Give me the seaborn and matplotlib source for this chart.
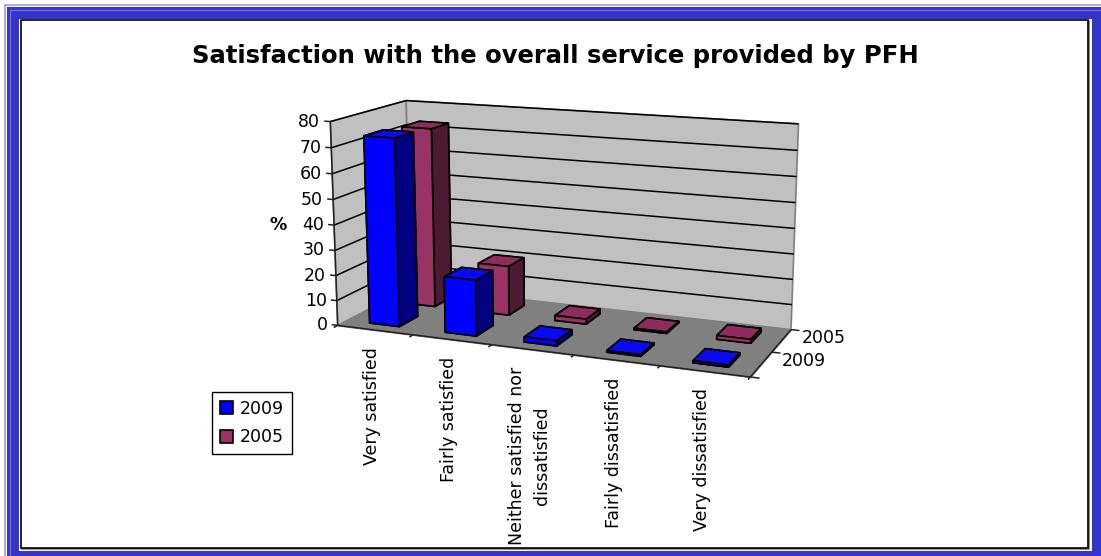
import numpy as np
import matplotlib
matplotlib.use("Agg")
import matplotlib.pyplot as plt
import seaborn as sns
from matplotlib.patches import Rectangle, Patch
from mpl_toolkits.mplot3d import proj3d
from mpl_toolkits.mplot3d.art3d import Poly3DCollection, Line3DCollection

# ---- data -------------------------------------------------------------
categories = ["Very satisfied", "Fairly satisfied",
              "Neither satisfied nor\ndissatisfied",
              "Fairly dissatisfied", "Very dissatisfied"]
series = ["2009", "2005"]
values_2009 = [74, 22, 2, 0.6, 0.8]
values_2005 = [73, 20, 2, 0.6, 1.5]
value_ticks = [0, 10, 20, 30, 40, 50, 60, 70, 80]

# ---- style ------------------------------------------------------------
sns.set_theme(style="white")
plt.rcParams["font.family"] = ["DejaVu Sans"]
plt.rcParams["text.color"] = "black"
FS = 12.5

face_cols = {
    "2009": dict(front="#0000ff", top="#0a0af0", side="#000080"),
    "2005": dict(front="#993366", top="#8e2d5d", side="#4d1a33"),
}

W, H = 1101, 556
fig = plt.figure(figsize=(W / 100, H / 100), dpi=100)
fig.patch.set_facecolor("white")


def px_rect(x0, y0, x1, y1):
    """Figure-fraction rectangle from image pixel corners (top-left origin)."""
    return (x0 / W, 1 - y1 / H), (x1 - x0) / W, (y1 - y0) / H


# frame around the chart
for (x0, y0, x1, y1, fc, ec, lw) in [
    (5, 5, W + 10, H + 10, "none", "#9c9ce8", 1.2),
    (7, 7, W + 10, H + 10, "#3434c8", "none", 0),
    (10, 10, W + 10, H + 10, "none", "#6e6ee0", 1.0),
    (19, 19, 1092, 551, "white", "none", 0),
    (22, 21, 1089, 549, "none", "#7a7a7a", 1.2),
    (21, 20, 1088, 548, "white", "black", 1.2),
]:
    xy, w, h = px_rect(x0, y0, x1, y1)
    fig.patches.append(Rectangle(xy, w, h, transform=fig.transFigure,
                                 facecolor=fc, edgecolor=ec, linewidth=lw,
                                 zorder=-5))

fig.text(555 / W, 1 - 56 / H,
         "Satisfaction with the overall service provided by PFH",
         ha="center", va="center", fontsize=17.5, fontweight="bold")

# ---- 3-D axes -----------------------------------------------------------
nx, ny, zmax = len(categories), len(series), value_ticks[-1]
S0, cx0, cy0 = 800.0, 565.0, H - 240.0


def place(ax, S, cx, cy):
    ax.set_position([(cx - S / 2) / W, (cy - S / 2) / H, S / W, S / H])


ax = fig.add_axes([0, 0, 1, 1], projection="3d", computed_zorder=False)
place(ax, S0, cx0, cy0)
ax.set_proj_type("persp", focal_length=0.55)
ax.view_init(elev=13, azim=-68)
ax.set_box_aspect((457, 168, 222))
ax.set_xlim(0, nx)
ax.set_ylim(0, ny)
ax.set_zlim(0, zmax)
ax.set_axis_off()
ax.patch.set_visible(False)

# walls and floor
floor = [(0, 0, 0), (nx, 0, 0), (nx, ny, 0), (0, ny, 0)]
left_wall = [(0, 0, 0), (0, ny, 0), (0, ny, zmax), (0, 0, zmax)]
back_wall = [(0, ny, 0), (nx, ny, 0), (nx, ny, zmax), (0, ny, zmax)]
ax.add_collection3d(Poly3DCollection([left_wall, back_wall],
                                     facecolors="#c0c0c0",
                                     edgecolors="#808080", linewidths=1.2,
                                     zorder=1))
ax.add_collection3d(Poly3DCollection([floor], facecolors="#808080",
                                     edgecolors="#808080", linewidths=1,
                                     zorder=1))

# gridlines on both walls
grid = []
for z in value_ticks[1:]:
    grid.append([(0, 0, z), (0, ny, z)])
    grid.append([(0, ny, z), (nx, ny, z)])
ax.add_collection3d(Line3DCollection(grid, colors="black", linewidths=1.1,
                                     zorder=2))

# axis lines and tick marks
axis_lines = [[(0, 0, 0), (0, 0, zmax)],
              [(0, 0, 0), (nx, 0, 0)],
              [(nx, 0, 0), (nx, ny, 0)]]
for z in value_ticks:
    axis_lines.append([(0, 0, z), (-0.08, 0, z)])
for i in range(nx + 1):
    axis_lines.append([(i, 0, 0), (i, -0.1, 0)])
for j in range(ny + 1):
    axis_lines.append([(nx, j, 0), (nx + 0.1, j, 0)])
ax.add_collection3d(Line3DCollection(axis_lines, colors="#222222",
                                     linewidths=1.1, zorder=2))

# bars
bar_w, bar_d = 0.4, 0.5
xs, ys, hs, cols = [], [], [], []
for j, (name, vals) in enumerate(zip(series, [values_2009, values_2005])):
    c = face_cols[name]
    for i, v in enumerate(vals):
        xs.append(i + (1 - bar_w) / 2)
        ys.append(j + (1 - bar_d) / 2)
        hs.append(v)
        # faces: bottom, top, front(-y), back(+y), left(-x), right(+x)
        cols += [c["front"], c["top"], c["front"], c["front"],
                 c["front"], c["side"]]
ax.bar3d(xs, ys, np.zeros(len(xs)), bar_w, bar_d, hs, color=cols,
         shade=False, edgecolor="black", linewidth=1.2, zorder=3)


def to_px(x, y, z):
    """Display-pixel position of a data point of the 3-D axes."""
    px, py, _ = proj3d.proj_transform(np.atleast_1d(x), np.atleast_1d(y),
                                      np.atleast_1d(z), ax.M)
    return ax.transData.transform(np.column_stack([px, py]))


# scale and centre the box so its corners sit in the plot region
fig.canvas.draw()
corners = np.array([(0, 0, 0), (0, 0, zmax), (0, ny, zmax),
                    (nx, ny, zmax), (nx, ny, 0), (nx, 0, 0)], dtype=float)
goal = np.array([(340, 330), (328, 124), (406, 100),
                 (798, 122), (792, 327), (750, 375)], dtype=float)
goal[:, 1] = H - goal[:, 1]
q = (to_px(*corners.T) - np.array([cx0, cy0])) / S0
qc, gc = q.mean(axis=0), goal.mean(axis=0)
S = np.sum((q - qc) * (goal - gc)) / np.sum((q - qc) ** 2)
cx, cy = gc - S * qc
place(ax, S, cx, cy)
fig.canvas.draw()


def label(x, y, s, **kw):
    fig.text(x / W, y / H, s, fontsize=FS, **kw)


# value axis labels
for z in value_ticks:
    (px, py), = to_px(0, 0, z)
    label(px - 10, py, str(z), ha="right", va="center")
(px, py), = to_px(0, 0, zmax / 2)
label(px - 56, py, "%", ha="center", va="center", fontweight="bold")

# category labels, rotated under the front edge
for i, lab in enumerate(categories):
    (px, py), = to_px(i + 0.5, 0, 0)
    label(px - 3, py - 17, lab, rotation=90, ha="center", va="top",
          multialignment="center", linespacing=1.55)

# series labels along the depth edge
for j, lab in enumerate(series):
    (px, py), = to_px(nx, j + 0.5, 0)
    label(px + 20, py + 3, lab, ha="left", va="center")

# legend
handles = [Patch(facecolor=face_cols[s]["front"], edgecolor="black",
                 linewidth=1.2, label=s) for s in series]
fig.legend(handles=handles, loc="upper left",
           bbox_to_anchor=(212 / W, 1 - 392 / H), frameon=True,
           fancybox=False, edgecolor="black", framealpha=1,
           fontsize=FS, handlelength=0.75, handleheight=0.75,
           handletextpad=0.4, labelspacing=0.6, borderpad=0.45,
           borderaxespad=0)

fig.savefig("out.png", dpi=100)
